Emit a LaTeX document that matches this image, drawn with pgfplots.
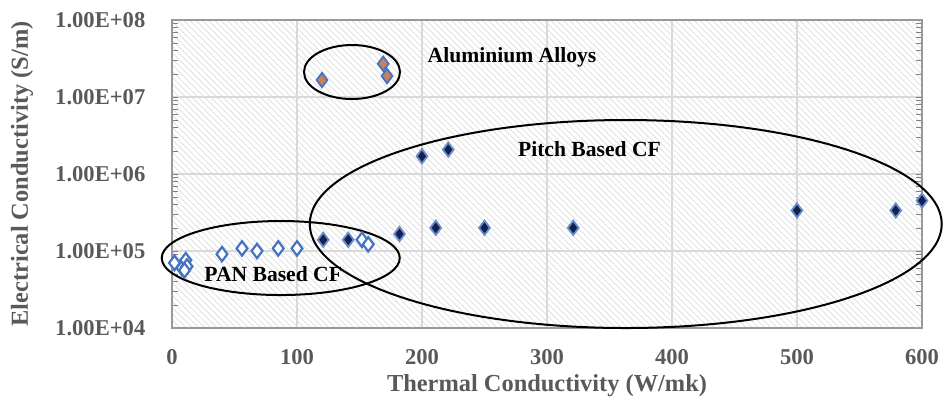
\documentclass[border=0pt]{standalone}
\usepackage{fontspec}
\setmainfont{Liberation Serif}
\usepackage{pgfplots}
\pgfplotsset{compat=1.18}
\usetikzlibrary{patterns.meta}
\definecolor{tickgray}{HTML}{595959}
\definecolor{gridgray}{HTML}{D9D9D9}
\definecolor{mblue}{HTML}{4472C4}
\definecolor{navy}{HTML}{14214D}
\definecolor{alum}{HTML}{C8825A}
\begin{document}
\begin{tikzpicture}
\begin{axis}[
  name=main,
  scale only axis,
  width=375pt, height=154pt,
  xmin=0, xmax=600,
  ymode=log, ymin=1e4, ymax=1e8,
  xtick={0,100,...,600},
  ytick={1e4,1e5,1e6,1e7,1e8},
  yticklabels={1.00E+04,1.00E+05,1.00E+06,1.00E+07,1.00E+08},
  minor ytick={},
  major tick length=0pt,
  /pgf/number format/assume math mode=true,
  tick label style={font=\fontsize{11.3}{13}\selectfont\bfseries, text=tickgray},
  xticklabel style={yshift=-7.3pt},
  yticklabel style={xshift=-9.8pt},
  xlabel={Thermal Conductivity (W/mk)},
  ylabel={Electrical Conductivity (S/m)},
  label style={font=\fontsize{12.2}{14}\selectfont\bfseries, text=tickgray},
  xlabel style={at={(axis description cs:0.5,0)}, anchor=center, yshift=-29pt},
  ylabel style={at={(axis description cs:0,0.5)}, anchor=center, yshift=75pt},
  grid=major,
  major grid style={gridgray, line width=0.6pt},
  axis line style={gray!80, line width=0.6pt},
  axis background/.style={pattern={Lines[angle=-45,distance=2.2pt,line width=0.35pt]}, pattern color=gray!28},
  clip=false,
]
% PAN based CF
\addplot[only marks, mark=diamond*, mark size=3.6pt,
  mark options={fill=white, draw=mblue, line width=1.1pt}] coordinates {
  (2,7.0e4) (8,6.0e4) (11,7.6e4) (12,6.3e4) (10,5.6e4)
  (40,9.1e4) (56,1.08e5) (68,1.0e5) (85,1.08e5) (100,1.08e5)
  (152,1.4e5) (157,1.22e5)
};
% Pitch based CF
\addplot[only marks, mark=diamond*, mark size=3.6pt,
  mark options={fill=navy, draw=mblue!80, line width=0.9pt}] coordinates {
  (121,1.4e5) (141,1.4e5) (182,1.66e5) (200,1.7e6) (211,2.0e5)
  (221,2.07e6) (250,2.0e5) (321,2.0e5) (500,3.36e5) (579,3.36e5) (600,4.5e5)
};
% Aluminium alloys
\addplot[only marks, mark=diamond*, mark size=3.6pt,
  mark options={fill=alum, draw=mblue, line width=0.9pt}] coordinates {
  (120,1.66e7) (169,2.7e7) (172,1.87e7)
};
\draw[black, line width=1pt] (axis cs:144,2.11e7) ellipse [x radius=24pt, y radius=13.5pt];
\draw[black, line width=1pt] (axis cs:363,2.24e5) ellipse [x radius=158pt, y radius=52pt];
\draw[black, line width=1pt] (axis cs:87,8.1e4) ellipse [x radius=59.5pt, y radius=18.5pt];
\node[font=\fontsize{10.8}{12}\selectfont\bfseries] at (axis cs:272,3.3e7) {Aluminium Alloys};
\node[font=\fontsize{10.8}{12}\selectfont\bfseries] at (axis cs:334,2.13e6) {Pitch Based CF};
\node[font=\fontsize{10.8}{12}\selectfont\bfseries] at (axis cs:81,5.0e4) {PAN Based CF};
\coordinate (sw) at (rel axis cs:0,0);
\coordinate (ne) at (rel axis cs:1,1);
\end{axis}
\pgfresetboundingbox
\path ([shift={(-86pt,-37.5pt)}]sw) rectangle ([shift={(11pt,10pt)}]ne);
\end{tikzpicture}
\end{document}
